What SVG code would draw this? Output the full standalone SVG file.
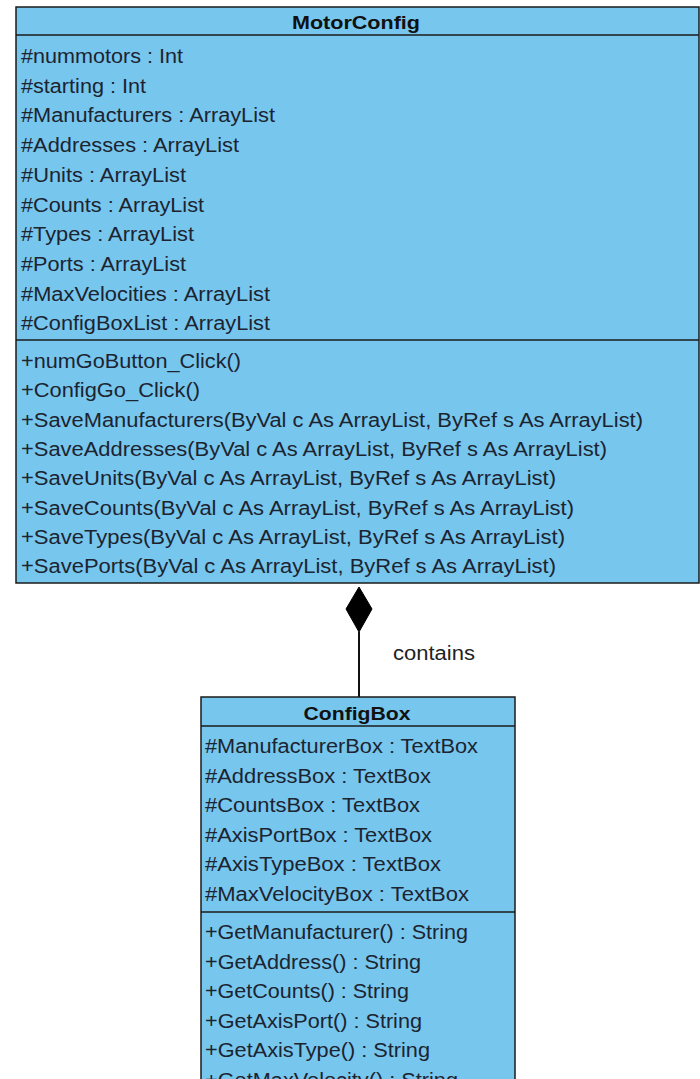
<svg xmlns="http://www.w3.org/2000/svg" width="700" height="1079" viewBox="0 0 700 1079">
<style>
.box{fill:#77C6EE;stroke:#1b1b1b;stroke-width:1.5}
.sep{stroke:#1b1b1b;stroke-width:1.5}
.t{font-family:"Liberation Sans",Arial,sans-serif;font-size:20px;fill:#1c2430}
.h{font-family:"Liberation Sans",Arial,sans-serif;font-size:19px;font-weight:bold;fill:#111;text-anchor:middle}
.lbl{font-family:"Liberation Sans",Arial,sans-serif;font-size:20px;fill:#222}
</style>
<rect width="700" height="1079" fill="#ffffff"/>
<g id="connectors">
<line x1="359" y1="632" x2="359" y2="697" stroke="#111" stroke-width="2"/>
<polygon points="359,587 372,609 359,632 346,609" fill="#000" stroke="#000" stroke-width="1"/>
<text class="lbl" x="393" y="660" textLength="82" lengthAdjust="spacingAndGlyphs">contains</text>
</g>
<g id="MotorConfig">
<rect class="box" x="16" y="7" width="683" height="576"/>
<line class="sep" x1="16" y1="35" x2="699" y2="35"/>
<line class="sep" x1="16" y1="340" x2="699" y2="340"/>
<text class="h" x="356" y="29" textLength="128" lengthAdjust="spacingAndGlyphs">MotorConfig</text>
<text class="t" x="21" y="63" textLength="162" lengthAdjust="spacingAndGlyphs">#nummotors : Int</text>
<text class="t" x="21" y="92.7" textLength="125" lengthAdjust="spacingAndGlyphs">#starting : Int</text>
<text class="t" x="21" y="122.4" textLength="254" lengthAdjust="spacingAndGlyphs">#Manufacturers : ArrayList</text>
<text class="t" x="21" y="152.1" textLength="218" lengthAdjust="spacingAndGlyphs">#Addresses : ArrayList</text>
<text class="t" x="21" y="181.8" textLength="165" lengthAdjust="spacingAndGlyphs">#Units : ArrayList</text>
<text class="t" x="21" y="211.5" textLength="183" lengthAdjust="spacingAndGlyphs">#Counts : ArrayList</text>
<text class="t" x="21" y="241.2" textLength="173" lengthAdjust="spacingAndGlyphs">#Types : ArrayList</text>
<text class="t" x="21" y="270.9" textLength="165" lengthAdjust="spacingAndGlyphs">#Ports : ArrayList</text>
<text class="t" x="21" y="300.6" textLength="249" lengthAdjust="spacingAndGlyphs">#MaxVelocities : ArrayList</text>
<text class="t" x="21" y="330.3" textLength="249" lengthAdjust="spacingAndGlyphs">#ConfigBoxList : ArrayList</text>
<text class="t" x="21" y="368" textLength="220" lengthAdjust="spacingAndGlyphs">+numGoButton_Click()</text>
<text class="t" x="21" y="397.3" textLength="179" lengthAdjust="spacingAndGlyphs">+ConfigGo_Click()</text>
<text class="t" x="21" y="426.6" textLength="622" lengthAdjust="spacingAndGlyphs">+SaveManufacturers(ByVal c As ArrayList, ByRef s As ArrayList)</text>
<text class="t" x="21" y="455.9" textLength="586" lengthAdjust="spacingAndGlyphs">+SaveAddresses(ByVal c As ArrayList, ByRef s As ArrayList)</text>
<text class="t" x="21" y="485.2" textLength="535" lengthAdjust="spacingAndGlyphs">+SaveUnits(ByVal c As ArrayList, ByRef s As ArrayList)</text>
<text class="t" x="21" y="514.5" textLength="553" lengthAdjust="spacingAndGlyphs">+SaveCounts(ByVal c As ArrayList, ByRef s As ArrayList)</text>
<text class="t" x="21" y="543.8" textLength="544" lengthAdjust="spacingAndGlyphs">+SaveTypes(ByVal c As ArrayList, ByRef s As ArrayList)</text>
<text class="t" x="21" y="573.1" textLength="535" lengthAdjust="spacingAndGlyphs">+SavePorts(ByVal c As ArrayList, ByRef s As ArrayList)</text>
</g>
<g id="ConfigBox">
<rect class="box" x="201" y="697" width="314" height="400"/>
<line class="sep" x1="201" y1="726" x2="515" y2="726"/>
<line class="sep" x1="201" y1="912" x2="515" y2="912"/>
<text class="h" x="357" y="720" textLength="107" lengthAdjust="spacingAndGlyphs">ConfigBox</text>
<text class="t" x="205" y="753" textLength="273" lengthAdjust="spacingAndGlyphs">#ManufacturerBox : TextBox</text>
<text class="t" x="205" y="782.5" textLength="226" lengthAdjust="spacingAndGlyphs">#AddressBox : TextBox</text>
<text class="t" x="205" y="812" textLength="215" lengthAdjust="spacingAndGlyphs">#CountsBox : TextBox</text>
<text class="t" x="205" y="841.5" textLength="227" lengthAdjust="spacingAndGlyphs">#AxisPortBox : TextBox</text>
<text class="t" x="205" y="871" textLength="236" lengthAdjust="spacingAndGlyphs">#AxisTypeBox : TextBox</text>
<text class="t" x="205" y="900.5" textLength="264" lengthAdjust="spacingAndGlyphs">#MaxVelocityBox : TextBox</text>
<text class="t" x="205" y="939" textLength="263" lengthAdjust="spacingAndGlyphs">+GetManufacturer() : String</text>
<text class="t" x="205" y="968.5" textLength="216" lengthAdjust="spacingAndGlyphs">+GetAddress() : String</text>
<text class="t" x="205" y="998" textLength="204" lengthAdjust="spacingAndGlyphs">+GetCounts() : String</text>
<text class="t" x="205" y="1027.5" textLength="217" lengthAdjust="spacingAndGlyphs">+GetAxisPort() : String</text>
<text class="t" x="205" y="1057" textLength="225" lengthAdjust="spacingAndGlyphs">+GetAxisType() : String</text>
<text class="t" x="205" y="1086.5" textLength="253" lengthAdjust="spacingAndGlyphs">+GetMaxVelocity() : String</text>
</g>
</svg>
